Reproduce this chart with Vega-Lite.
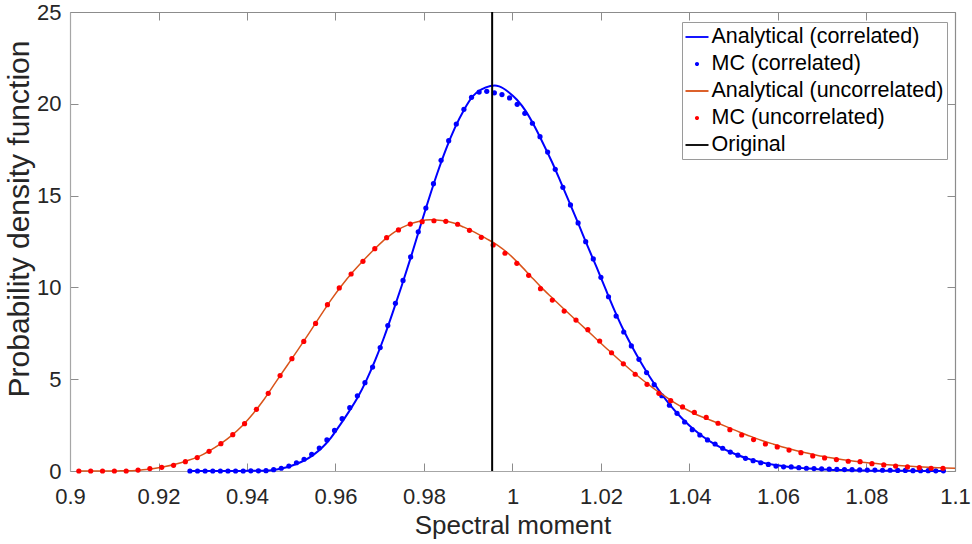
{
  "$schema": "https://vega.github.io/schema/vega-lite/v6.json",
  "width": 885,
  "height": 459,
  "autosize": "none",
  "padding": {"left": 70, "top": 12, "right": 17, "bottom": 73},
  "background": "white",
  "config": {
    "view": {"stroke": null},
    "font": "Liberation Sans"
  },
  "datasets": {
    "analyticalCorrelated": [
      {"x": 0.927, "y": 0}, {"x": 0.929, "y": 0}, {"x": 0.931, "y": 0}, {"x": 0.933, "y": 0},
      {"x": 0.935, "y": 0}, {"x": 0.937, "y": 0}, {"x": 0.939, "y": 0.005}, {"x": 0.941, "y": 0.01},
      {"x": 0.943, "y": 0.015}, {"x": 0.945, "y": 0.03}, {"x": 0.947, "y": 0.09}, {"x": 0.949, "y": 0.2},
      {"x": 0.951, "y": 0.37}, {"x": 0.953, "y": 0.58}, {"x": 0.955, "y": 0.88}, {"x": 0.957, "y": 1.28},
      {"x": 0.959, "y": 1.82}, {"x": 0.961, "y": 2.5}, {"x": 0.963, "y": 3.22}, {"x": 0.965, "y": 4.0},
      {"x": 0.967, "y": 4.95}, {"x": 0.969, "y": 6.05}, {"x": 0.971, "y": 7.3}, {"x": 0.973, "y": 8.68},
      {"x": 0.975, "y": 10.12}, {"x": 0.977, "y": 11.62}, {"x": 0.979, "y": 13.2}, {"x": 0.981, "y": 14.75},
      {"x": 0.983, "y": 16.22}, {"x": 0.985, "y": 17.55}, {"x": 0.987, "y": 18.7}, {"x": 0.989, "y": 19.65},
      {"x": 0.991, "y": 20.4}, {"x": 0.993, "y": 20.78}, {"x": 0.995, "y": 20.97}, {"x": 0.996, "y": 21.0},
      {"x": 0.997, "y": 20.95}, {"x": 0.999, "y": 20.66}, {"x": 1.001, "y": 20.22}, {"x": 1.003, "y": 19.6},
      {"x": 1.005, "y": 18.76}, {"x": 1.007, "y": 17.8}, {"x": 1.009, "y": 16.79}, {"x": 1.011, "y": 15.68},
      {"x": 1.013, "y": 14.55}, {"x": 1.015, "y": 13.4}, {"x": 1.017, "y": 12.23}, {"x": 1.019, "y": 11.1},
      {"x": 1.021, "y": 9.93}, {"x": 1.023, "y": 8.78}, {"x": 1.025, "y": 7.72}, {"x": 1.027, "y": 6.78},
      {"x": 1.029, "y": 5.92}, {"x": 1.031, "y": 5.13}, {"x": 1.033, "y": 4.42}, {"x": 1.035, "y": 3.78},
      {"x": 1.037, "y": 3.2}, {"x": 1.039, "y": 2.7}, {"x": 1.041, "y": 2.26}, {"x": 1.043, "y": 1.88},
      {"x": 1.045, "y": 1.56}, {"x": 1.047, "y": 1.29}, {"x": 1.049, "y": 1.06}, {"x": 1.051, "y": 0.86},
      {"x": 1.053, "y": 0.69}, {"x": 1.055, "y": 0.55}, {"x": 1.057, "y": 0.43}, {"x": 1.059, "y": 0.34},
      {"x": 1.061, "y": 0.27}, {"x": 1.063, "y": 0.21}, {"x": 1.065, "y": 0.17}, {"x": 1.067, "y": 0.13},
      {"x": 1.069, "y": 0.1}, {"x": 1.071, "y": 0.08}, {"x": 1.073, "y": 0.06}, {"x": 1.075, "y": 0.05},
      {"x": 1.077, "y": 0.04}, {"x": 1.079, "y": 0.03}, {"x": 1.081, "y": 0.02}, {"x": 1.083, "y": 0.02},
      {"x": 1.085, "y": 0.01}, {"x": 1.087, "y": 0.01}, {"x": 1.089, "y": 0.01}, {"x": 1.091, "y": 0.01},
      {"x": 1.093, "y": 0}, {"x": 1.095, "y": 0}, {"x": 1.097, "y": 0}
    ],
    "mcCorrelated": [
      {"x": 0.9271, "y": 0}, {"x": 0.92882, "y": 0}, {"x": 0.93054, "y": 0}, {"x": 0.93226, "y": 0},
      {"x": 0.93398, "y": 0}, {"x": 0.9357, "y": 0}, {"x": 0.93742, "y": 0}, {"x": 0.93914, "y": 0},
      {"x": 0.94086, "y": 0.01}, {"x": 0.94258, "y": 0.01}, {"x": 0.9443, "y": 0.02}, {"x": 0.94602, "y": 0.07},
      {"x": 0.94774, "y": 0.15}, {"x": 0.94946, "y": 0.27}, {"x": 0.95118, "y": 0.45}, {"x": 0.9529, "y": 0.64},
      {"x": 0.95462, "y": 0.91}, {"x": 0.95634, "y": 1.25}, {"x": 0.95806, "y": 1.69}, {"x": 0.95978, "y": 2.21},
      {"x": 0.9615, "y": 2.85}, {"x": 0.96322, "y": 3.45}, {"x": 0.96494, "y": 4.1}, {"x": 0.96666, "y": 4.81},
      {"x": 0.96838, "y": 5.66}, {"x": 0.9701, "y": 6.72}, {"x": 0.97182, "y": 7.92}, {"x": 0.97354, "y": 9.13},
      {"x": 0.97526, "y": 10.38}, {"x": 0.97698, "y": 11.66}, {"x": 0.9787, "y": 13.03}, {"x": 0.98042, "y": 14.32},
      {"x": 0.98214, "y": 15.65}, {"x": 0.98386, "y": 16.92}, {"x": 0.98558, "y": 17.99}, {"x": 0.9873, "y": 18.9},
      {"x": 0.98902, "y": 19.7}, {"x": 0.99074, "y": 20.35}, {"x": 0.99246, "y": 20.64}, {"x": 0.99418, "y": 20.68},
      {"x": 0.9959, "y": 20.6}, {"x": 0.99762, "y": 20.5}, {"x": 0.99934, "y": 20.32}, {"x": 1.00106, "y": 19.97},
      {"x": 1.00278, "y": 19.48}, {"x": 1.0045, "y": 18.94}, {"x": 1.00622, "y": 18.21}, {"x": 1.00794, "y": 17.37},
      {"x": 1.00966, "y": 16.43}, {"x": 1.01138, "y": 15.45}, {"x": 1.0131, "y": 14.49}, {"x": 1.01482, "y": 13.51},
      {"x": 1.01654, "y": 12.49}, {"x": 1.01826, "y": 11.55}, {"x": 1.01998, "y": 10.55}, {"x": 1.0217, "y": 9.49},
      {"x": 1.02342, "y": 8.44}, {"x": 1.02514, "y": 7.57}, {"x": 1.02686, "y": 6.81}, {"x": 1.02858, "y": 6.08},
      {"x": 1.0303, "y": 5.36}, {"x": 1.03202, "y": 4.7}, {"x": 1.03374, "y": 4.1}, {"x": 1.03546, "y": 3.58},
      {"x": 1.03718, "y": 3.14}, {"x": 1.0389, "y": 2.67}, {"x": 1.04062, "y": 2.25}, {"x": 1.04234, "y": 1.96},
      {"x": 1.04406, "y": 1.69}, {"x": 1.04578, "y": 1.47}, {"x": 1.0475, "y": 1.24}, {"x": 1.04922, "y": 1.03},
      {"x": 1.05094, "y": 0.86}, {"x": 1.05266, "y": 0.69}, {"x": 1.05438, "y": 0.56}, {"x": 1.0561, "y": 0.45},
      {"x": 1.05782, "y": 0.36}, {"x": 1.05954, "y": 0.27}, {"x": 1.06126, "y": 0.23}, {"x": 1.06298, "y": 0.22},
      {"x": 1.0647, "y": 0.18}, {"x": 1.06642, "y": 0.15}, {"x": 1.06814, "y": 0.13}, {"x": 1.06986, "y": 0.12},
      {"x": 1.07158, "y": 0.1}, {"x": 1.0733, "y": 0.09}, {"x": 1.07502, "y": 0.08}, {"x": 1.07674, "y": 0.07},
      {"x": 1.07846, "y": 0.06}, {"x": 1.08018, "y": 0.05}, {"x": 1.0819, "y": 0.05}, {"x": 1.08362, "y": 0.04},
      {"x": 1.08534, "y": 0.04}, {"x": 1.08706, "y": 0.03}, {"x": 1.08878, "y": 0.03}, {"x": 1.0905, "y": 0.02},
      {"x": 1.09222, "y": 0.02}, {"x": 1.09394, "y": 0.02}, {"x": 1.09566, "y": 0.01}, {"x": 1.09738, "y": 0.01}
    ],
    "analyticalUncorrelated": [
      {"x": 0.9015, "y": 0}, {"x": 0.904, "y": 0}, {"x": 0.9065, "y": 0}, {"x": 0.909, "y": 0},
      {"x": 0.9115, "y": 0.01}, {"x": 0.914, "y": 0.02}, {"x": 0.9165, "y": 0.07}, {"x": 0.919, "y": 0.14},
      {"x": 0.9215, "y": 0.24}, {"x": 0.924, "y": 0.38}, {"x": 0.9265, "y": 0.56}, {"x": 0.929, "y": 0.78},
      {"x": 0.9315, "y": 1.1}, {"x": 0.934, "y": 1.48}, {"x": 0.9365, "y": 1.93}, {"x": 0.939, "y": 2.48},
      {"x": 0.9415, "y": 3.16}, {"x": 0.944, "y": 3.95}, {"x": 0.9465, "y": 4.84}, {"x": 0.949, "y": 5.72},
      {"x": 0.9515, "y": 6.6}, {"x": 0.954, "y": 7.5}, {"x": 0.9565, "y": 8.42}, {"x": 0.959, "y": 9.32},
      {"x": 0.9615, "y": 10.13}, {"x": 0.964, "y": 10.86}, {"x": 0.9665, "y": 11.52}, {"x": 0.969, "y": 12.13},
      {"x": 0.9715, "y": 12.68}, {"x": 0.974, "y": 13.12}, {"x": 0.9765, "y": 13.42}, {"x": 0.979, "y": 13.6},
      {"x": 0.9815, "y": 13.68}, {"x": 0.984, "y": 13.65}, {"x": 0.9865, "y": 13.52}, {"x": 0.989, "y": 13.28},
      {"x": 0.9915, "y": 13.0}, {"x": 0.994, "y": 12.67}, {"x": 0.9965, "y": 12.32}, {"x": 0.999, "y": 11.86},
      {"x": 1.0015, "y": 11.28}, {"x": 1.004, "y": 10.64}, {"x": 1.0065, "y": 10.0}, {"x": 1.009, "y": 9.42},
      {"x": 1.0115, "y": 8.85}, {"x": 1.014, "y": 8.29}, {"x": 1.0165, "y": 7.74}, {"x": 1.019, "y": 7.18},
      {"x": 1.0215, "y": 6.62}, {"x": 1.024, "y": 6.07}, {"x": 1.0265, "y": 5.54}, {"x": 1.029, "y": 5.04},
      {"x": 1.0315, "y": 4.57}, {"x": 1.034, "y": 4.14}, {"x": 1.0365, "y": 3.74}, {"x": 1.039, "y": 3.39},
      {"x": 1.0415, "y": 3.08}, {"x": 1.044, "y": 2.84}, {"x": 1.0465, "y": 2.6}, {"x": 1.049, "y": 2.35},
      {"x": 1.0515, "y": 2.1}, {"x": 1.054, "y": 1.87}, {"x": 1.0565, "y": 1.65}, {"x": 1.059, "y": 1.46},
      {"x": 1.0615, "y": 1.28}, {"x": 1.064, "y": 1.12}, {"x": 1.0665, "y": 0.98}, {"x": 1.069, "y": 0.85},
      {"x": 1.0715, "y": 0.74}, {"x": 1.074, "y": 0.64}, {"x": 1.0765, "y": 0.56}, {"x": 1.079, "y": 0.48},
      {"x": 1.0815, "y": 0.42}, {"x": 1.084, "y": 0.36}, {"x": 1.0865, "y": 0.31}, {"x": 1.089, "y": 0.27},
      {"x": 1.0915, "y": 0.23}, {"x": 1.094, "y": 0.2}, {"x": 1.0965, "y": 0.18}, {"x": 1.1, "y": 0.15}
    ],
    "mcUncorrelated": [
      {"x": 0.902, "y": 0}, {"x": 0.90468, "y": 0}, {"x": 0.90735, "y": 0}, {"x": 0.91003, "y": 0},
      {"x": 0.9127, "y": 0}, {"x": 0.91538, "y": 0.05}, {"x": 0.91805, "y": 0.13}, {"x": 0.92073, "y": 0.2},
      {"x": 0.9234, "y": 0.31}, {"x": 0.92608, "y": 0.51}, {"x": 0.92875, "y": 0.73}, {"x": 0.93143, "y": 1.07},
      {"x": 0.9341, "y": 1.49}, {"x": 0.93678, "y": 1.98}, {"x": 0.93945, "y": 2.58}, {"x": 0.94213, "y": 3.36},
      {"x": 0.9448, "y": 4.23}, {"x": 0.94748, "y": 5.2}, {"x": 0.95015, "y": 6.12}, {"x": 0.95283, "y": 7.06},
      {"x": 0.9555, "y": 8.04}, {"x": 0.95818, "y": 9.06}, {"x": 0.96085, "y": 9.97}, {"x": 0.96353, "y": 10.73},
      {"x": 0.9662, "y": 11.42}, {"x": 0.96888, "y": 12.11}, {"x": 0.97155, "y": 12.71}, {"x": 0.97423, "y": 13.13},
      {"x": 0.9769, "y": 13.45}, {"x": 0.97958, "y": 13.58}, {"x": 0.98225, "y": 13.63}, {"x": 0.98493, "y": 13.6},
      {"x": 0.9876, "y": 13.44}, {"x": 0.99028, "y": 13.11}, {"x": 0.99295, "y": 12.73}, {"x": 0.99563, "y": 12.31},
      {"x": 0.9983, "y": 11.86}, {"x": 1.00098, "y": 11.31}, {"x": 1.00365, "y": 10.66}, {"x": 1.00633, "y": 9.93},
      {"x": 1.009, "y": 9.31}, {"x": 1.01168, "y": 8.71}, {"x": 1.01435, "y": 8.22}, {"x": 1.01703, "y": 7.7},
      {"x": 1.0197, "y": 7.08}, {"x": 1.02238, "y": 6.44}, {"x": 1.02505, "y": 5.84}, {"x": 1.02773, "y": 5.27},
      {"x": 1.0304, "y": 4.72}, {"x": 1.03308, "y": 4.23}, {"x": 1.03575, "y": 3.83}, {"x": 1.03843, "y": 3.49},
      {"x": 1.0411, "y": 3.19}, {"x": 1.04378, "y": 2.92}, {"x": 1.04645, "y": 2.6}, {"x": 1.04913, "y": 2.25},
      {"x": 1.0518, "y": 1.96}, {"x": 1.05448, "y": 1.71}, {"x": 1.05715, "y": 1.47}, {"x": 1.05983, "y": 1.31},
      {"x": 1.0625, "y": 1.14}, {"x": 1.06518, "y": 1.0}, {"x": 1.06785, "y": 0.82}, {"x": 1.07053, "y": 0.71},
      {"x": 1.0732, "y": 0.62}, {"x": 1.07588, "y": 0.53}, {"x": 1.07855, "y": 0.51}, {"x": 1.08123, "y": 0.4},
      {"x": 1.0839, "y": 0.33}, {"x": 1.08658, "y": 0.27}, {"x": 1.08925, "y": 0.22}, {"x": 1.09193, "y": 0.18},
      {"x": 1.0946, "y": 0.15}, {"x": 1.09728, "y": 0.15}
    ],
    "original": [{"x": 0.9954}]
  },
  "layer": [
    {
      "data": {"name": "analyticalCorrelated"},
      "mark": {"type": "line", "strokeWidth": 2, "interpolate": "monotone"},
      "encoding": {
        "x": {
          "field": "x", "type": "quantitative",
          "scale": {"domain": [0.9, 1.1], "nice": false, "zero": false},
          "axis": {
            "orient": "bottom",
            "values": [0.9, 0.92, 0.94, 0.96, 0.98, 1, 1.02, 1.04, 1.06, 1.08, 1.1],
            "format": "~g",
            "grid": false,
            "domainColor": "#a6a6a6", "domainWidth": 1.2,
            "tickColor": "#8c8c8c", "tickSize": -8, "tickWidth": 1,
            "labelFont": "Liberation Sans", "labelFontSize": 22, "labelColor": "#262626",
            "labelPadding": 40, "labelBaseline": "alphabetic",
            "labelFlush": false, "labelOverlap": false,
            "title": "Spectral moment",
            "titleFont": "Liberation Sans", "titleFontSize": 26, "titleFontWeight": "normal",
            "titleColor": "#262626", "titleBaseline": "alphabetic",
            "titleX": 442.5, "titleY": 62
          }
        },
        "y": {
          "field": "y", "type": "quantitative",
          "scale": {"domain": [0, 25], "nice": false, "zero": false},
          "axis": {
            "orient": "left",
            "values": [0, 5, 10, 15, 20, 25],
            "grid": false,
            "domainColor": "#a6a6a6", "domainWidth": 1.2,
            "tickColor": "#8c8c8c", "tickSize": -8, "tickWidth": 1,
            "labelFont": "Liberation Sans", "labelFontSize": 22, "labelColor": "#262626",
            "labelPadding": 17, "labelAlign": "right", "labelBaseline": "middle",
            "labelFlush": false, "labelOverlap": false,
            "title": "Probability density function",
            "titleFont": "Liberation Sans", "titleFontSize": 30, "titleFontWeight": "normal",
            "titleColor": "#262626", "titleBaseline": "alphabetic", "titleAngle": -90,
            "titleX": -42, "titleY": 206.5
          }
        },
        "color": {
          "datum": "Analytical (correlated)", "type": "nominal",
          "scale": {
            "domain": ["Analytical (correlated)", "MC (correlated)", "Analytical (uncorrelated)", "MC (uncorrelated)", "Original"],
            "range": ["#0000ff", "#0000ff", "#d95319", "#ff0000", "#000000"]
          },
          "legend": {
            "title": null,
            "orient": "none", "legendX": 612, "legendY": 10,
            "direction": "vertical",
            "fillColor": "#ffffff", "strokeColor": "#9a9a9a",
            "padding": 3.5,
            "rowPadding": 5,
            "labelFont": "Liberation Sans", "labelFontSize": 21.5, "labelColor": "#000000",
            "labelLimit": 400, "labelOffset": 3,
            "symbolSize": 529, "symbolStrokeWidth": 0,
            "encode": {
              "symbols": {
                "update": {
                  "shape": {"signal": "indexof(['MC (correlated)', 'MC (uncorrelated)'], datum.value) >= 0 ? 'M-0.18,0A0.18,0.18 0 1,0 0.18,0A0.18,0.18 0 1,0 -0.18,0Z' : 'M-1,-0.08H1V0.08H-1Z'"},
                  "fill": {"scale": "color", "field": "value"},
                  "fillOpacity": {"value": 1},
                  "stroke": {"value": "transparent"}
                }
              }
            }
          }
        }
      }
    },
    {
      "data": {"name": "mcCorrelated"},
      "mark": {"type": "point", "filled": true, "shape": "circle", "size": 27, "opacity": 1},
      "encoding": {
        "x": {
          "field": "x", "type": "quantitative",
          "axis": {
            "orient": "top", "labels": false, "title": null, "grid": false,
            "values": [0.9, 0.92, 0.94, 0.96, 0.98, 1, 1.02, 1.04, 1.06, 1.08, 1.1],
            "domainColor": "#8c8c8c", "domainWidth": 1.2,
            "tickColor": "#8c8c8c", "tickSize": -8, "tickWidth": 1
          }
        },
        "y": {
          "field": "y", "type": "quantitative",
          "axis": {
            "orient": "right", "labels": false, "title": null, "grid": false,
            "values": [0, 5, 10, 15, 20, 25],
            "domainColor": "#8c8c8c", "domainWidth": 1.2,
            "tickColor": "#8c8c8c", "tickSize": -8, "tickWidth": 1
          }
        },
        "color": {"datum": "MC (correlated)", "type": "nominal", "legend": null}
      }
    },
    {
      "data": {"name": "analyticalUncorrelated"},
      "mark": {"type": "line", "strokeWidth": 1.5, "interpolate": "monotone"},
      "encoding": {
        "x": {"field": "x", "type": "quantitative", "axis": null},
        "y": {"field": "y", "type": "quantitative", "axis": null},
        "color": {"datum": "Analytical (uncorrelated)", "type": "nominal", "legend": null}
      }
    },
    {
      "data": {"name": "mcUncorrelated"},
      "mark": {"type": "point", "filled": true, "shape": "circle", "size": 27, "opacity": 1},
      "encoding": {
        "x": {"field": "x", "type": "quantitative", "axis": null},
        "y": {"field": "y", "type": "quantitative", "axis": null},
        "color": {"datum": "MC (uncorrelated)", "type": "nominal", "legend": null}
      }
    },
    {
      "data": {"name": "original"},
      "mark": {"type": "rule", "strokeWidth": 2},
      "encoding": {
        "x": {"field": "x", "type": "quantitative", "axis": null},
        "color": {"datum": "Original", "type": "nominal", "legend": null}
      }
    }
  ],
  "resolve": {"axis": {"x": "independent", "y": "independent"}}
}
